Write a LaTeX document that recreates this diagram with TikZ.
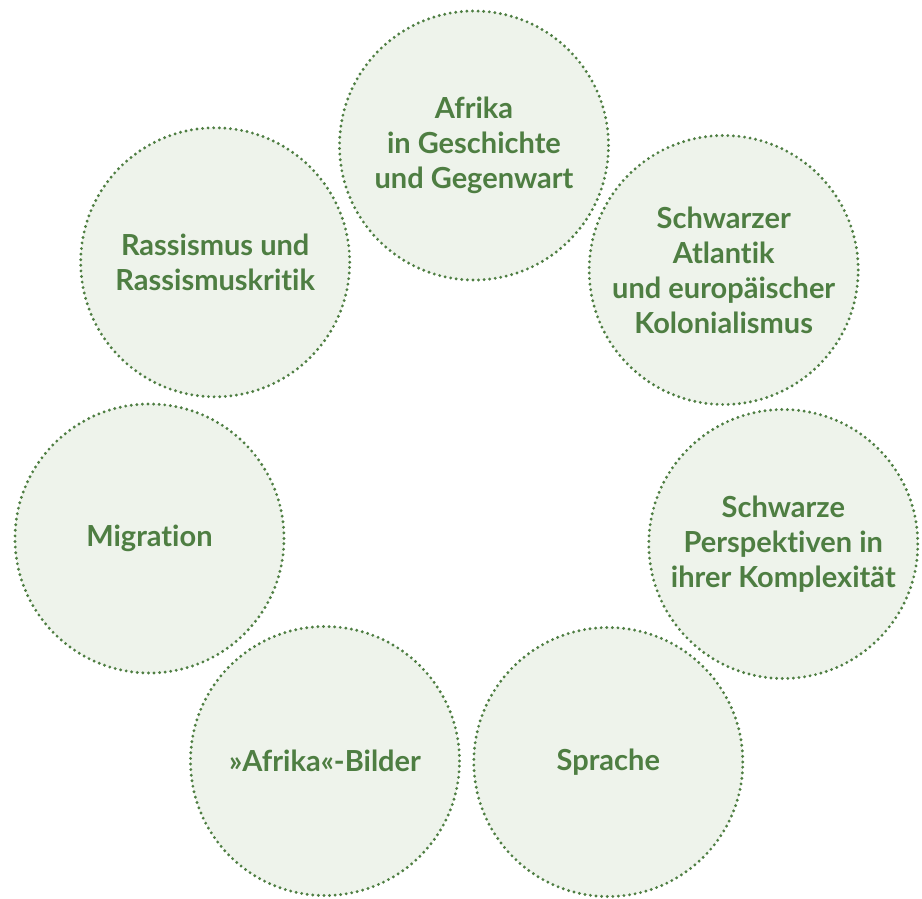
\documentclass[tikz,border=0pt]{standalone}
\usepackage{fontspec}
\setmainfont{Lato}[Ligatures=NoCommon]
\usetikzlibrary{positioning}
\definecolor{leafgreen}{RGB}{78,126,66}
\definecolor{palegreen}{RGB}{238,243,235}

\begin{document}
\begin{tikzpicture}[x=1pt,y=-1pt,every node/.style={topic},
  topic/.style={circle,draw=leafgreen,fill=palegreen,line width=3.2pt,dash pattern=on 0pt off 5.6pt,
    line cap=round,minimum size=269pt,inner sep=0pt,align=center,text=leafgreen,
    font=\bfseries\fontsize{29}{35}\selectfont}]

        \useasboundingbox (0,0) rectangle (922,899);

        \node (A) at (474,145.5) {Afrika\\in Geschichte\\und Gegenwart};
        \node (B) at (723.7,270) {Schwarzer\\Atlantik\\und europäischer\\Kolonialismus};
        \node (C) at (783.3,544) {Schwarze\\Perspektiven in\\ihrer Komplexität};
        \node (D) at (608.3,762) {Sprache};
        \node (E) at (325,761) {»Afrika«-Bilder};
        \node (F) at (149.5,538.5) {Migration};
        \node (G) at (215.2,262.3) {Rassismus und\\Rassismuskritik};

      \end{tikzpicture}
\end{document}
